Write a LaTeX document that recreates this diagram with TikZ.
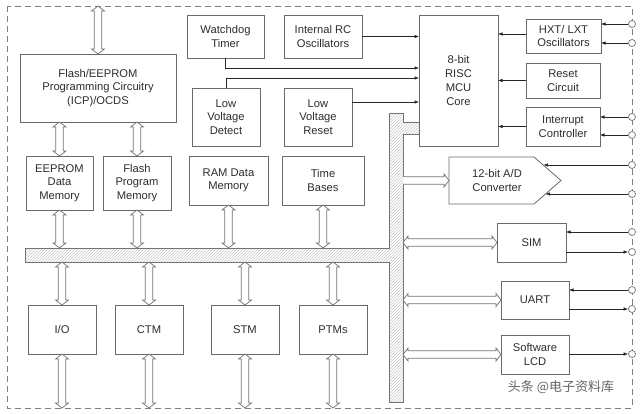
\documentclass[tikz,border=0pt]{standalone}
\usepackage{fontspec}
\setmainfont{Liberation Sans}
\newfontfamily\cjkfont{Noto Sans CJK SC}
\usetikzlibrary{arrows.meta,patterns,calc}
\definecolor{boxline}{HTML}{6A6A6A}
\definecolor{txt}{HTML}{2E2E2E}
% hollow bus arrow: #1 start, #2 end, #3 = 1 for heads at both ends, 0 for head at end only
\newcommand\busarrow[3]{%
  \coordinate (hA) at (#1); \coordinate (hB) at (#2);
  \coordinate (hCa) at ($(hA)!5pt!(hB)$); \coordinate (hCb) at ($(hB)!5pt!(hA)$);
  \ifnum#3=1
    \draw[harr] (hA) -- ($(hCa)!6.5pt!90:(hB)$) -- ($(hCa)!3.8pt!90:(hB)$) -- ($(hCb)!3.8pt!-90:(hA)$)
      -- ($(hCb)!6.5pt!-90:(hA)$) -- (hB) -- ($(hCb)!6.5pt!90:(hA)$) -- ($(hCb)!3.8pt!90:(hA)$)
      -- ($(hCa)!3.8pt!-90:(hB)$) -- ($(hCa)!6.5pt!-90:(hB)$) -- cycle;
  \else
    \draw[harr] ($(hA)!3.8pt!90:(hB)$) -- ($(hCb)!3.8pt!-90:(hA)$) -- ($(hCb)!6.5pt!-90:(hA)$) -- (hB)
      -- ($(hCb)!6.5pt!90:(hA)$) -- ($(hCb)!3.8pt!90:(hA)$) -- ($(hA)!3.8pt!-90:(hB)$);
  \fi}
\begin{document}
\begin{tikzpicture}[x=1pt,y=-1pt,
  blk/.style={draw=boxline, line width=0.8pt, fill=white, align=center, inner sep=0pt, outer sep=0pt,
     text=txt, font=\fontsize{11.2}{13.5}\selectfont},
  harr/.style={draw=black!55, line width=0.7pt, fill=white},
  sig/.style={draw=black!85, line width=0.6pt, -{Latex[length=4.5pt,width=3.5pt]}},
  pinc/.style={circle, draw=black!55, line width=0.7pt, fill=white, minimum size=7pt, inner sep=0pt}]
\useasboundingbox (0,0) rectangle (640,414);
% border
\draw[draw=black!50, line width=0.8pt, dash pattern=on 6pt off 4pt] (7,6) rectangle (632,408);
\coordinate (topb) at (0,6);
\coordinate (botb) at (0,408);
% bus
\draw[draw=black!55, line width=0.7pt, fill=white, pattern=north east lines, pattern color=black!22]
  (25,248) -- (389,248) -- (389,113) -- (403,113) -- (403,122) -- (419,122) -- (419,134) -- (403,134)
  -- (403,402) -- (389,402) -- (389,262) -- (25,262) -- cycle;
\coordinate (hbT) at (0,248);
\coordinate (hbB) at (0,262);
\coordinate (vbR) at (403,0);
% blocks
\node[blk, minimum width=156pt, minimum height=68pt] (flash) at (98,88) {Flash/EEPROM\\Programming Circuitry\\(ICP)/OCDS};
\node[blk, minimum width=67pt, minimum height=54pt] (eeprom) at (59.5,183) {EEPROM\\Data\\Memory};
\node[blk, minimum width=68pt, minimum height=54pt] (fmem) at (137,183) {Flash\\Program\\Memory};
\node[blk, minimum width=77pt, minimum height=43pt] (wdt) at (225.5,36.5) {Watchdog\\Timer};
\node[blk, minimum width=78pt, minimum height=43pt] (irc) at (323,36.5) {Internal RC\\Oscillators};
\node[blk, minimum width=68pt, minimum height=58pt] (lvd) at (226,117) {Low\\Voltage\\Detect};
\node[blk, minimum width=68pt, minimum height=58pt] (lvr) at (318,117) {Low\\Voltage\\Reset};
\node[blk, minimum width=79pt, minimum height=49pt] (ram) at (228.5,180.5) {RAM Data\\Memory};
\node[blk, minimum width=82pt, minimum height=49pt] (tb) at (323,180.5) {Time\\Bases};
\node[blk, minimum width=79pt, minimum height=131pt, font=\fontsize{11.2}{14}\selectfont] (core) at (458.5,80.5) {8-bit\\RISC\\MCU\\Core};
\node[blk, minimum width=75pt, minimum height=34pt] (hxt) at (563.5,36) {HXT/ LXT\\Oscillators};
\node[blk, minimum width=74pt, minimum height=35pt] (rst) at (563,80.5) {Reset\\Circuit};
\node[blk, minimum width=74pt, minimum height=39pt] (intc) at (563,126.5) {Interrupt\\Controller};
\node[blk, minimum width=69pt, minimum height=39pt] (sim) at (531.5,242.5) {SIM};
\node[blk, minimum width=68pt, minimum height=38pt] (uart) at (535,300) {UART};
\node[blk, minimum width=68pt, minimum height=39pt] (lcd) at (535,354.5) {Software\\LCD};
\node[blk, minimum width=68pt, minimum height=49pt] (io) at (62,329.5) {I/O};
\node[blk, minimum width=68pt, minimum height=49pt] (ctm) at (149,329.5) {CTM};
\node[blk, minimum width=68pt, minimum height=49pt] (stm) at (245,329.5) {STM};
\node[blk, minimum width=68pt, minimum height=49pt] (ptm) at (333,329.5) {PTMs};
% ADC
\draw[draw=boxline, line width=0.8pt, fill=white] (449,157) -- (534,157) -- (561,180.5) -- (534,204) -- (449,204) -- cycle;
\node[blk, draw=none, fill=none] (adc) at (497,180.5) {12-bit A/D\\Converter};
\coordinate (adcW) at (449,180.5);
\coordinate (adcI1) at (543.5,165);
\coordinate (adcI2) at (545.5,194);
% wide arrows
\busarrow{flash.north}{flash.north |- topb}{1}
\busarrow{eeprom.north}{eeprom.north |- flash.south}{1}
\busarrow{fmem.north}{fmem.north |- flash.south}{1}
\busarrow{eeprom.south}{eeprom.south |- hbT}{1}
\busarrow{fmem.south}{fmem.south |- hbT}{1}
\busarrow{ram.south}{ram.south |- hbT}{1}
\busarrow{tb.south}{tb.south |- hbT}{1}
\foreach \b in {io,ctm,stm,ptm}{
  \busarrow{\b.north}{\b.north |- hbB}{1}
  \busarrow{\b.south}{\b.south |- botb}{1}
}
\busarrow{vbR |- adcW}{adcW}{0}
\busarrow{vbR |- sim.west}{sim.west}{1}
\busarrow{vbR |- uart.west}{uart.west}{1}
\busarrow{vbR |- lcd.west}{lcd.west}{1}
% signals into core
\draw[sig] (irc.east) -- (irc.east -| core.west);
\draw[sig] (wdt.south) |- (core.west |- 0,68);
\draw[sig] (lvd.north) |- (core.west |- 0,78);
\draw[sig] (lvr.east |- 0,102) -- (core.west |- 0,102);
\draw[sig] (hxt.west |- 0,34) -- (core.east |- 0,34);
\draw[sig] (rst.west) -- (rst.west -| core.east);
\draw[sig] (intc.west) -- (intc.west -| core.east);
% pins
\node[pinc] (p1) at (632,24) {};
\node[pinc] (p2) at (632,43) {};
\node[pinc] (p3) at (632,117) {};
\node[pinc] (p4) at (632,135) {};
\node[pinc] (p5) at (632,165) {};
\node[pinc] (p6) at (632,194) {};
\node[pinc] (p7) at (632,232) {};
\node[pinc] (p8) at (632,252) {};
\node[pinc] (p9) at (632,290) {};
\node[pinc] (p10) at (632,309) {};
\node[pinc] (p11) at (632,354) {};
\draw[sig] (p1.west) -- (p1 -| hxt.east);
\draw[sig] (p2.west) -- (p2 -| hxt.east);
\draw[sig] (p3.west) -- (p3 -| intc.east);
\draw[sig] (p4.west) -- (p4 -| intc.east);
\draw[sig] (p5.west) -- (adcI1);
\draw[sig] (p6.west) -- (adcI2);
\draw[sig] (p7.west) -- (p7 -| sim.east);
\draw[sig] (p8 -| sim.east) -- (p8.west);
\draw[sig] (p9.west) -- (p9 -| uart.east);
\draw[sig] (p10 -| uart.east) -- (p10.west);
\draw[sig] (p11 -| lcd.east) -- (p11.west);
% watermark
\node[text=black!60, font=\cjkfont\fontsize{13}{13}\selectfont, inner sep=0pt] (wm) at (561,387) {头条 @电子资料库};
\end{tikzpicture}
\end{document}
